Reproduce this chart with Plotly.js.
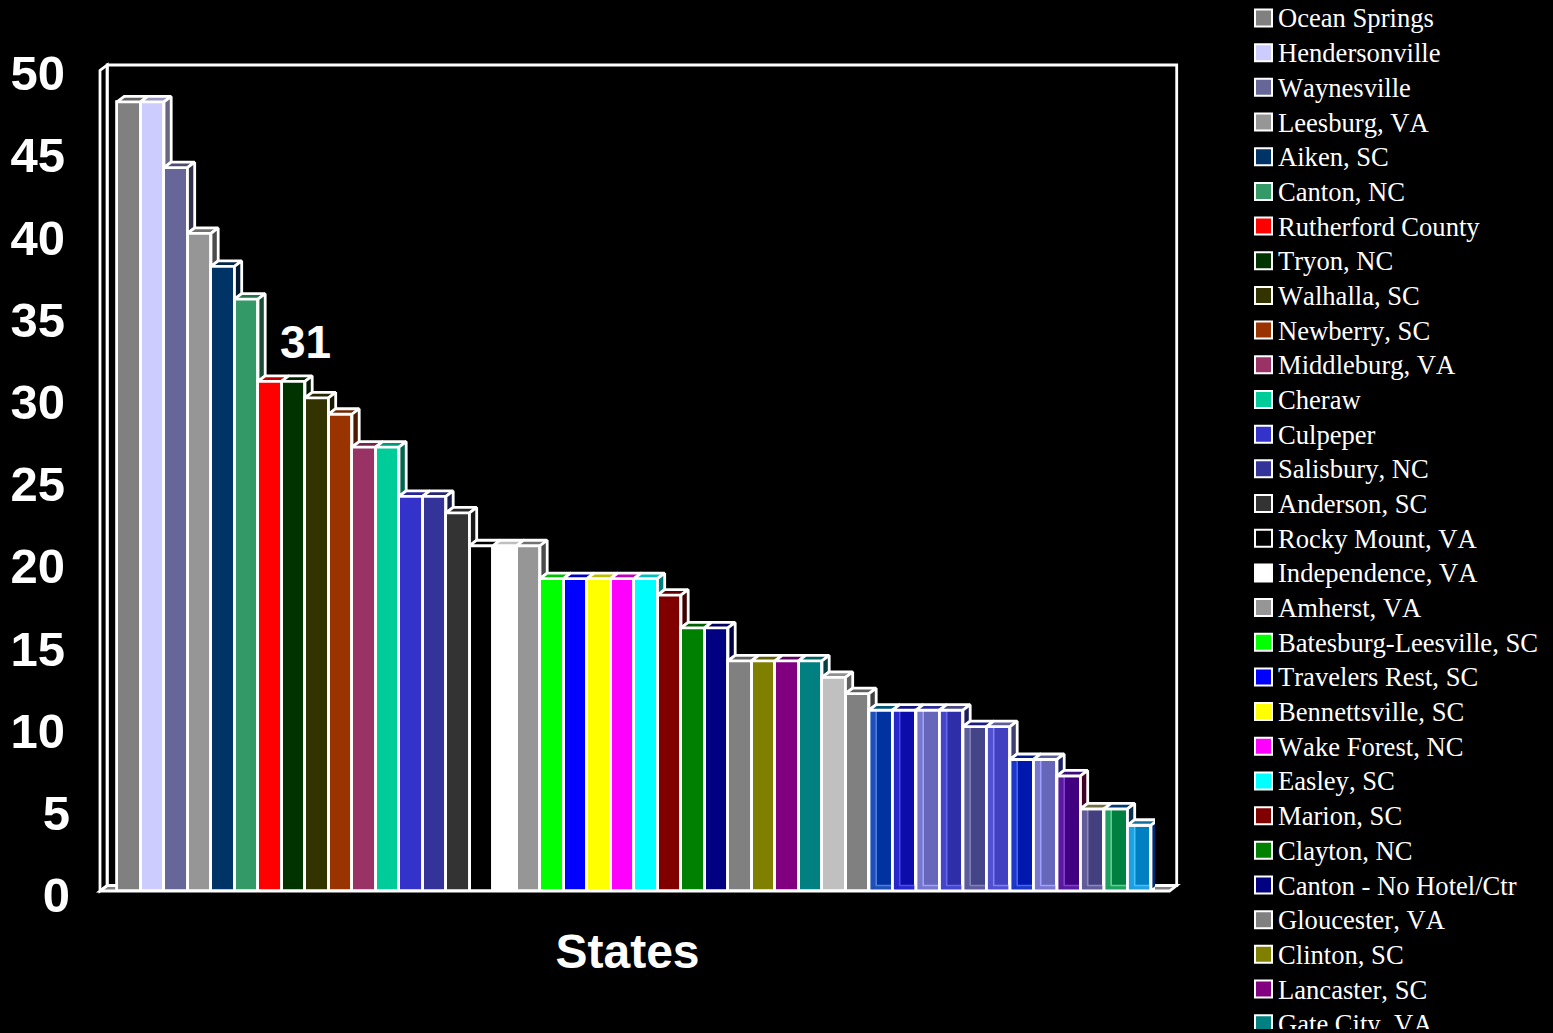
<!DOCTYPE html>
<html>
<head>
<meta charset="utf-8">
<script src="https://cdn.plot.ly/plotly-3.0.1.min.js"></script>
<style>
  html, body { margin: 0; padding: 0; background: #000; overflow: hidden; }
  #chart { width: 1553px; height: 1029px; }
  .annotation-text { font-kerning: none; }
</style>
</head>
<body>
<div id="chart"></div>
<script>
// Visitor counts per location, sorted from the highest down.
const barValues = [48, 48, 44, 40, 38, 36, 31, 31, 30, 29, 27, 27, 24, 24, 23, 21, 21, 21,
  19, 19, 19, 19, 19, 18, 16, 16, 14, 14, 14, 14, 13, 12, 11, 11, 11, 11, 10, 10, 8, 8, 7, 5, 5, 4];

const barColors = ['#808080', '#CCCCFF', '#666699', '#969696', '#003366', '#339966', '#FF0000', '#003300',
  '#333300', '#993300', '#993366', '#00CC99', '#3333CC', '#333399', '#333333', '#000000', '#FFFFFF', '#969696',
  '#00FF00', '#0000FF', '#FFFF00', '#FF00FF', '#00FFFF', '#800000', '#008000', '#000080', '#808080', '#808000',
  '#800080', '#008080', '#C0C0C0', '#808080', '#0033A0', '#0C0CAA', '#6666BB', '#2E2EA8', '#444488', '#4040C0',
  '#0018AE', '#6666BB', '#400080', '#444080', '#008040', '#0080C0'];

// The last twelve bars are translucent, so their inner edges show through.
const glassStart = 32;
const glassTop = ['#005577', '#14147F', '#2C2C96', '#4A4A80', '#1C1C80', '#606099', '#001A90', '#5C5C9C', '#3A0A80', '#707040', '#003A70', '#1070A0'];
const glassSide = ['#1C1C5C', '#1C1C5C', '#1C1C5C', '#1C1C5C', '#404070', '#404070', '#1C2466', '#1C2466', '#400028', '#10304F', '#10304F', '#002A70'];
const glassBand = ['#1F50B8', '#2626CC', '#7777CC', '#4545CC', '#5C5C9C', '#5050D0', '#1C38C8', '#7777CC', '#5A1A9F', '#605C99', '#20A060', '#20A0E0'];
const glassEdge = ['#4D7DE0', '#4D4DE8', '#A0A0FF', '#6666E6', '#8080B8', '#8080EE', '#4466EE', '#A0A0FF', '#8040D0', '#8A88BB', '#60D090', '#40C0FF'];

const legendNames = ['Ocean Springs', 'Hendersonville', 'Waynesville', 'Leesburg, VA', 'Aiken, SC', 'Canton, NC',
  'Rutherford County', 'Tryon, NC', 'Walhalla, SC', 'Newberry, SC', 'Middleburg, VA', 'Cheraw', 'Culpeper',
  'Salisbury, NC', 'Anderson, SC', 'Rocky Mount, VA', 'Independence, VA', 'Amherst, VA', 'Batesburg-Leesville, SC',
  'Travelers Rest, SC', 'Bennettsville, SC', 'Wake Forest, NC', 'Easley, SC', 'Marion, SC', 'Clayton, NC',
  'Canton - No Hotel/Ctr', 'Gloucester, VA', 'Clinton, SC', 'Lancaster, SC', 'Gate City, VA'];

const yTicks = [0, 5, 10, 15, 20, 25, 30, 35, 40, 45, 50];
const highlightIndex = 6;

// Layout of the oblique box, in pixels on the page.
const plotLeft = 100, plotRight = 1155, plotTop = 69, plotBottom = 891;
const slotWidth = 23.5, firstSlotLeft = 117;
const depthX = 7.2, depthY = 5.5;
const wallRight = 1169.5, wallTop = 70.5;
const WHITE = '#FFFFFF', EDGE = 2.8;

const xAt0 = firstSlotLeft + slotWidth / 2;
const xRange = [(plotLeft - xAt0) / slotWidth, (plotRight - xAt0) / slotWidth];
const unitY = (plotBottom - plotTop) / 50;
const dx = depthX / slotWidth, dy = depthY / unitY;

const paperX = p => (p - plotLeft) / (plotRight - plotLeft);
const paperY = p => (plotBottom - p) / (plotBottom - plotTop);

function shade(hex, f) {
  const n = parseInt(hex.slice(1), 16);
  const c = s => Math.round(((n >> s) & 255) * f);
  return `rgb(${c(16)},${c(8)},${c(0)})`;
}

function poly(xs, ys, fill, lineColor, width) {
  return {
    type: 'scatter', mode: 'lines', x: xs, y: ys, fill: 'toself', fillcolor: fill,
    line: { color: lineColor || fill, width: lineColor ? (width || EDGE) : 0, simplify: false },
    cliponaxis: false, showlegend: false, hoverinfo: 'skip'
  };
}

const traces = [{
  type: 'bar', x: barValues.map((_, i) => i), y: barValues, width: 1,
  marker: { color: barColors, line: { color: WHITE, width: EDGE } },
  cliponaxis: false, showlegend: false,
  hovertemplate: '%{y}<extra></extra>'
}];

barValues.forEach((v, i) => {
  const x0 = i - 0.5, x1 = i + 0.5;
  const next = i + 1 < barValues.length ? barValues[i + 1] : 0;
  const glass = i >= glassStart ? i - glassStart : -1;
  const topFill = glass >= 0 ? glassTop[glass] : shade(barColors[i], 0.75);
  const sideFill = glass >= 0 ? glassSide[glass] : shade(barColors[i], 0.5);

  if (glass >= 0) {
    // Left and bottom inner faces seen through the front of the bar.
    traces.push(poly([x0, x0 + dx, x0 + dx, x0, x0], [0, dy, v, v, 0], glassBand[glass]));
    traces.push(poly([x0, x0 + dx, x1, x1, x0], [0, dy, dy, 0, 0], glassBand[glass]));
    traces.push({
      type: 'scatter', mode: 'lines', x: [x0 + dx, x0 + dx, x1], y: [v, dy, dy],
      line: { color: glassEdge[glass], width: 1.6 }, cliponaxis: false, showlegend: false, hoverinfo: 'skip'
    });
    traces.push({
      type: 'scatter', mode: 'lines', x: [x0, x1, x1, x0, x0], y: [0, 0, v, v, 0],
      line: { color: WHITE, width: EDGE }, cliponaxis: false, showlegend: false, hoverinfo: 'skip'
    });
  }

  // Top face, then the part of the side face standing above the next bar.
  traces.push(poly([x0, x0 + dx, x1 + dx, x1, x0], [v, v + dy, v + dy, v, v], topFill, WHITE));
  if (v > next) {
    traces.push(poly([x1, x1 + dx, x1 + dx, x1, x1], [v, v + dy, next + dy, next, v], sideFill, WHITE));
  }
});

const wallStyle = { color: WHITE, width: EDGE };
const backLeft = plotLeft + depthX, backRight = wallRight + depthX;
const backTop = wallTop - depthY, backBottom = plotBottom - depthY;

function pathFrom(points, closed) {
  return 'M' + points.map(p => `${paperX(p[0])},${paperY(p[1])}`).join('L') + (closed ? 'Z' : '');
}

const shapes = [
  // Floor
  { type: 'path', xref: 'paper', yref: 'paper', layer: 'below', fillcolor: '#808080', line: wallStyle,
    path: pathFrom([[plotLeft, plotBottom], [backLeft, backBottom], [backRight, backBottom], [wallRight, plotBottom]], true) },
  // Side wall
  { type: 'path', xref: 'paper', yref: 'paper', layer: 'below', line: wallStyle,
    path: pathFrom([[plotLeft, plotBottom], [plotLeft, wallTop], [backLeft, backTop], [backLeft, backBottom]], true) },
  // Back wall
  { type: 'path', xref: 'paper', yref: 'paper', layer: 'below', line: wallStyle,
    path: pathFrom([[backLeft, backBottom], [backLeft, backTop], [backRight, backTop], [backRight, backBottom]], true) }
];

const legendFirstY = 18, legendStep = 34.68;
const annotations = [{
  xref: 'x', yref: 'y', x: (305 - xAt0) / slotWidth, y: barValues[highlightIndex] + 2.4,
  text: String(barValues[highlightIndex]), showarrow: false,
  font: { family: '"Liberation Sans", Arial, sans-serif', size: 46, color: WHITE, weight: 700 }
}];

legendNames.forEach((name, i) => {
  const cy = legendFirstY + legendStep * i;
  shapes.push({
    type: 'rect', xref: 'paper', yref: 'paper', layer: 'above',
    x0: paperX(1255), x1: paperX(1272), y0: paperY(cy + 8.5), y1: paperY(cy - 8.5),
    fillcolor: barColors[i], line: { color: WHITE, width: 2 }
  });
  annotations.push({
    xref: 'paper', yref: 'paper', x: paperX(1276), y: paperY(cy + 0.5), xanchor: 'left', yanchor: 'middle',
    text: name, showarrow: false, align: 'left',
    font: { family: '"Liberation Serif", "Times New Roman", serif', size: 26.6, color: WHITE }
  });
});

// Two-digit labels sit slightly left of the single-digit ones.
const tickText = yTicks.map(t => t >= 10 ? `${t}<span style="font-size:18px">&nbsp;</span>` : String(t));

const layout = {
  width: 1553, height: 1029, autosize: false,
  paper_bgcolor: '#000000', plot_bgcolor: '#000000',
  margin: { l: plotLeft, r: 1553 - plotRight, t: plotTop, b: 1029 - plotBottom, pad: 0 },
  bargap: 0, showlegend: false,
  xaxis: {
    range: xRange, showgrid: false, zeroline: false, showline: false, ticks: '', showticklabels: false, fixedrange: true,
    title: { text: 'States', standoff: 43,
      font: { family: '"Liberation Sans", Arial, sans-serif', size: 48, color: WHITE, weight: 700 } }
  },
  yaxis: {
    range: [0, 50], showgrid: false, zeroline: false, showline: false, ticks: '', fixedrange: true,
    tickmode: 'array', tickvals: yTicks, ticktext: tickText,
    ticklabelstandoff: 29, ticklabelshift: 4,
    tickfont: { family: '"Liberation Sans", Arial, sans-serif', size: 49, color: WHITE, weight: 700 }
  },
  shapes, annotations
};

Plotly.newPlot('chart', traces, layout, { displayModeBar: false, responsive: false });
</script>
</body>
</html>
